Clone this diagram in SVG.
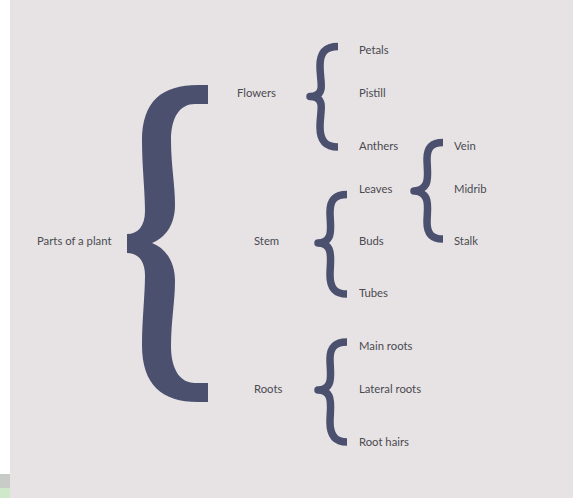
<svg xmlns="http://www.w3.org/2000/svg" width="573" height="498" viewBox="0 0 573 498">
<style>
.lbl{font-family:Lato,"Open Sans","Liberation Sans",sans-serif;font-size:11.3px;fill:#4a4a50}
.br{fill:none;stroke:#4a506e;stroke-width:7.5;stroke-linecap:butt;stroke-linejoin:round}
.big{fill:#4a506e}
</style>
<rect x="0" y="0" width="573" height="498" fill="#ffffff"/>
<rect x="10" y="0" width="563" height="498" fill="#e7e3e5"/>
<rect x="0" y="474" width="10" height="14" fill="#c9cbc8"/>
<rect x="0" y="488" width="10" height="10" fill="#cfe8c9"/>
<g id="connectors">
<path class="big" d="M208,85 L208,104 L195,104 C180,104 171,117 171,140 C171,165 175,185 175,205 C175,225 165,238 152,243 C165,248 175,261 175,281 C175,301 171,321 171,346 C171,369 180,383 195,383 L208,383 L208,402 L198,402 C162,402 142,385 142,345 C142,320 145,295 145,275 C145,261 138,253 127,253 L127,234 C138,234 145,226 145,211 C145,191 142,166 142,141 C142,101 162,85 198,85 Z"/>
<path class="br" d="M338,46.5 C325,46.5 320,53 320,66 C320,76 322,84 321,89 C320,94 316,96.5 310,96.5 C316,96.5 320,99 321,104 C322,109 320,117 320,127 C320,140 325,147 338,147"/>
<path class="br" d="M347,194.5 C335,194.5 330,200 330,212 C330,222 332,232 329,237 C327,241 323,243 318,243 C323,243 327,245 329,249 C332,255 330,265 330,275 C330,288 335,294 347,294"/>
<path class="br" d="M347,342 C335,342 330,347 330,359 C330,369 332,379 329,384 C327,388 323,390 318,390 C323,390 327,392 329,396 C332,402 330,412 330,422 C330,435 335,442 347,442"/>
<path class="br" d="M443,142.5 C431,142.5 427,148 427,159 C427,168 429,178 426,184 C424,188 419,191 414,191 C419,191 424,194 426,198 C429,204 427,213 427,222 C427,233 431,239 443,239"/>
</g>
<g id="parts"><text class="lbl" x="37" y="245">Parts of a plant</text></g>
<g id="flowers"><text class="lbl" x="237" y="97">Flowers</text></g>
<g id="stem"><text class="lbl" x="254" y="245">Stem</text></g>
<g id="roots"><text class="lbl" x="254" y="393">Roots</text></g>
<g id="petals"><text class="lbl" x="359" y="54">Petals</text></g>
<g id="pistill"><text class="lbl" x="359" y="97">Pistill</text></g>
<g id="anthers"><text class="lbl" x="359" y="150">Anthers</text></g>
<g id="leaves"><text class="lbl" x="359" y="193">Leaves</text></g>
<g id="buds"><text class="lbl" x="359" y="245">Buds</text></g>
<g id="tubes"><text class="lbl" x="359" y="297">Tubes</text></g>
<g id="mainroots"><text class="lbl" x="359" y="350">Main roots</text></g>
<g id="lateralroots"><text class="lbl" x="359" y="393">Lateral roots</text></g>
<g id="roothairs"><text class="lbl" x="359" y="446">Root hairs</text></g>
<g id="vein"><text class="lbl" x="454" y="150">Vein</text></g>
<g id="midrib"><text class="lbl" x="454" y="193">Midrib</text></g>
<g id="stalk"><text class="lbl" x="454" y="245">Stalk</text></g>
</svg>
